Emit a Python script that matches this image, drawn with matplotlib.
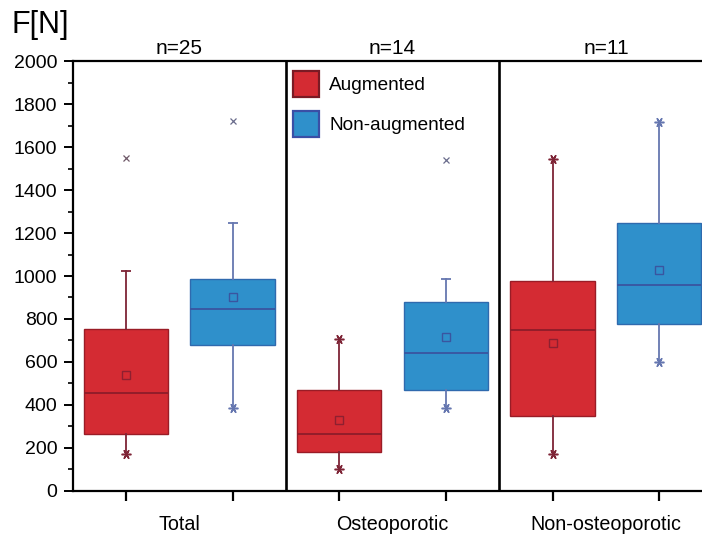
import matplotlib
matplotlib.use("Agg")
import matplotlib.pyplot as plt
from matplotlib.patches import Patch
from matplotlib.ticker import MultipleLocator

plt.rcParams['font.family'] = ['Liberation Sans', 'DejaVu Sans']

groups = ["Total", "Osteoporotic", "Non-osteoporotic"]
group_n = ["n=25", "n=14", "n=11"]
series_names = ["Augmented", "Non-augmented"]

aug_q1 = [262, 180, 350]
aug_med = [455, 265, 750]
aug_q3 = [755, 470, 978]
aug_mean = [540, 330, 690]
aug_whislo = [170, 100, 170]
aug_whishi = [1025, 705, 1545]
aug_outliers = [[1550], [], []]
aug_lo_star = [True, True, True]
aug_hi_star = [False, True, True]

non_q1 = [680, 470, 775]
non_med = [845, 640, 960]
non_q3 = [985, 880, 1245]
non_mean = [902, 715, 1027]
non_whislo = [385, 385, 600]
non_whishi = [1245, 985, 1715]
non_outliers = [[1720], [1540], []]
non_lo_star = [True, True, True]
non_hi_star = [False, False, True]

y_ticks = [0, 200, 400, 600, 800, 1000, 1200, 1400, 1600, 1800, 2000]

W, H = 702, 536
fig = plt.figure(figsize=(W / 100, H / 100), dpi=100)
ax = fig.add_axes([72.6 / W, 45.3 / H, 640 / W, 429.4 / H])

styles = [
    dict(face="#D42B33", edge="#9A1C26", whisk="#7E2436", med="#8E1C2A",
         mean="#8E2030", flier="#6E5868"),
    dict(face="#2F90CB", edge="#2F6AAE", whisk="#6677B0", med="#3A55A0",
         mean="#3A55A0", flier="#6A6C8C"),
]

data = [
    (aug_q1, aug_med, aug_q3, aug_mean, aug_whislo, aug_whishi, aug_outliers, aug_lo_star, aug_hi_star),
    (non_q1, non_med, non_q3, non_mean, non_whislo, non_whishi, non_outliers, non_lo_star, non_hi_star),
]

for s, (q1, med, q3, mean, wlo, whi, outl, lostar, histar) in enumerate(data):
    st = styles[s]
    positions = [1 + 2 * g + s for g in range(len(groups))]
    stats = []
    for g in range(len(groups)):
        stats.append(dict(q1=q1[g], med=med[g], q3=q3[g], mean=mean[g],
                          whislo=wlo[g], whishi=whi[g], fliers=outl[g]))
    ax.bxp(stats, positions=positions, widths=0.79, patch_artist=True,
           showmeans=True, showcaps=False, showfliers=True,
           boxprops=dict(facecolor=st["face"], edgecolor=st["edge"], linewidth=1.0),
           whiskerprops=dict(color=st["whisk"], linewidth=1.3),
           medianprops=dict(color=st["med"], linewidth=1.3),
           meanprops=dict(marker="s", markersize=5.5, markerfacecolor="none",
                          markeredgecolor=st["mean"], markeredgewidth=1.0),
           flierprops=dict(marker="x", markersize=5, markeredgecolor=st["flier"],
                           markeredgewidth=0.9), zorder=3)
    for g, p in enumerate(positions):
        for val, star in ((wlo[g], lostar[g]), (whi[g], histar[g])):
            if star:
                ax.plot([p], [val], marker=(6, 2, 90), markersize=7, color=st["whisk"],
                        markeredgewidth=1.1, zorder=4, linestyle="none")
            else:
                ax.hlines(val, p - 0.047, p + 0.047, colors=st["whisk"], linewidth=1.3, zorder=4)

for xdiv in (2.5, 4.5):
    ax.axvline(xdiv, color="black", linewidth=1.9, zorder=5)

ax.set_xlim(0.5, 6.5)
ax.set_ylim(0, 2000)
ax.set_yticks(y_ticks)
ax.set_yticklabels([str(v) for v in y_ticks])
ax.yaxis.set_minor_locator(MultipleLocator(100))
ax.set_xticks([1, 2, 3, 4, 5, 6])
ax.set_xticklabels([])
ax.set_xticks([1.5, 3.5, 5.5], minor=True)
ax.set_xticklabels(groups, minor=True)

ax.tick_params(axis="y", which="major", direction="out", length=6.5, width=1.4,
               labelsize=14, pad=4.5)
ax.tick_params(axis="y", which="minor", direction="out", length=3.5, width=1.2)
ax.tick_params(axis="x", which="major", direction="out", length=7, width=1.6)
ax.tick_params(axis="x", which="minor", length=0, labelsize=14.2, pad=17.5)

for side in ("left", "bottom", "top", "right"):
    ax.spines[side].set_linewidth(1.6)

for g, label in enumerate(group_n):
    ax.annotate(label, xy=(1.5 + 2 * g, 1.0), xycoords=("data", "axes fraction"),
                xytext=(0, 5), textcoords="offset points", ha="center",
                va="baseline", fontsize=15)

fig.text(11.7 / W, 1 - 33 / H, "F[N]", fontsize=22, va="baseline", ha="left")

handles = [Patch(facecolor=styles[0]["face"], edgecolor="#7A1A24", linewidth=1.6),
           Patch(facecolor=styles[1]["face"], edgecolor="#3A4FA6", linewidth=1.6)]
ax.legend(handles, series_names, loc="upper left",
          bbox_to_anchor=((292.7 - 72.6) / 640, (H - 71 - 45.3) / 429.4),
          frameon=False, fontsize=13.7, handlelength=1.37, handleheight=1.72,
          handletextpad=0.55, labelspacing=0.74, borderpad=0, borderaxespad=0)

fig.savefig("out.png", dpi=100)
